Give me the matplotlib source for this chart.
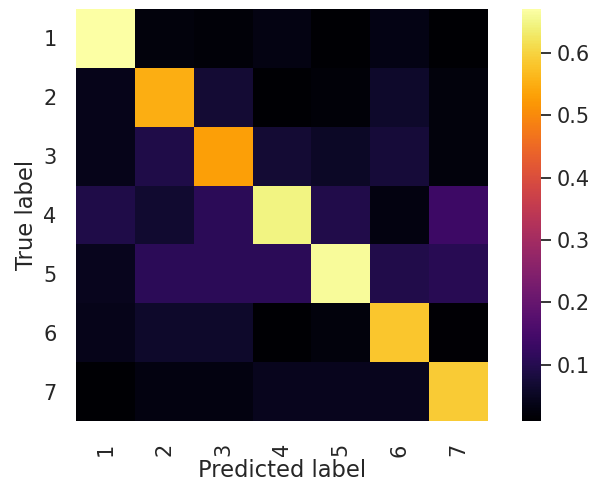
import matplotlib
matplotlib.use("Agg")
import matplotlib.pyplot as plt
import numpy as np

labels = ["1", "2", "3", "4", "5", "6", "7"]
row1 = [0.67, 0.025, 0.02, 0.033, 0.01, 0.035, 0.01]
row2 = [0.04, 0.55, 0.07, 0.01, 0.02, 0.06, 0.025]
row3 = [0.04, 0.09, 0.53, 0.07, 0.055, 0.075, 0.025]
row4 = [0.09, 0.065, 0.11, 0.645, 0.095, 0.03, 0.135]
row5 = [0.045, 0.11, 0.11, 0.11, 0.66, 0.095, 0.105]
row6 = [0.04, 0.06, 0.06, 0.01, 0.025, 0.58, 0.015]
row7 = [0.01, 0.03, 0.03, 0.045, 0.045, 0.045, 0.59]

data = np.array([row1, row2, row3, row4, row5, row6, row7])

W, H = 594, 484
fig = plt.figure(figsize=(W / 100, H / 100), dpi=100)
ax = fig.add_axes([76 / W, (H - 421) / H, 412 / W, 412 / H])
cax = fig.add_axes([522 / W, (H - 421) / H, 19 / W, 412 / H])

mesh = ax.pcolormesh(np.arange(8), np.arange(8), data, cmap="inferno",
                     vmin=data.min(), vmax=data.max())
ax.set_xlim(0, 7)
ax.set_ylim(7, 0)
ax.set_xticks(np.arange(7) + 0.5)
ax.set_yticks(np.arange(7) + 0.5)
tc = "#262626"
ax.set_xticklabels(labels, rotation=90, fontsize=15, color=tc)
ax.set_yticklabels(labels, rotation=0, fontsize=15, color=tc)
ax.tick_params(axis="y", length=0, pad=14)
ax.tick_params(axis="x", length=0, pad=16)
for s in ax.spines.values():
    s.set_visible(False)
ax.set_xlabel("Predicted label", fontsize=16.3, color=tc, labelpad=2)
ax.set_ylabel("True label", fontsize=16.3, color=tc, labelpad=4)

cb = fig.colorbar(mesh, cax=cax)
cb.set_ticks([0.1, 0.2, 0.3, 0.4, 0.5, 0.6])
cb.ax.tick_params(labelsize=15, labelcolor=tc, length=7, width=1.3, color=tc, pad=4)
cb.outline.set_visible(False)

fig.savefig("out.png", dpi=100)
